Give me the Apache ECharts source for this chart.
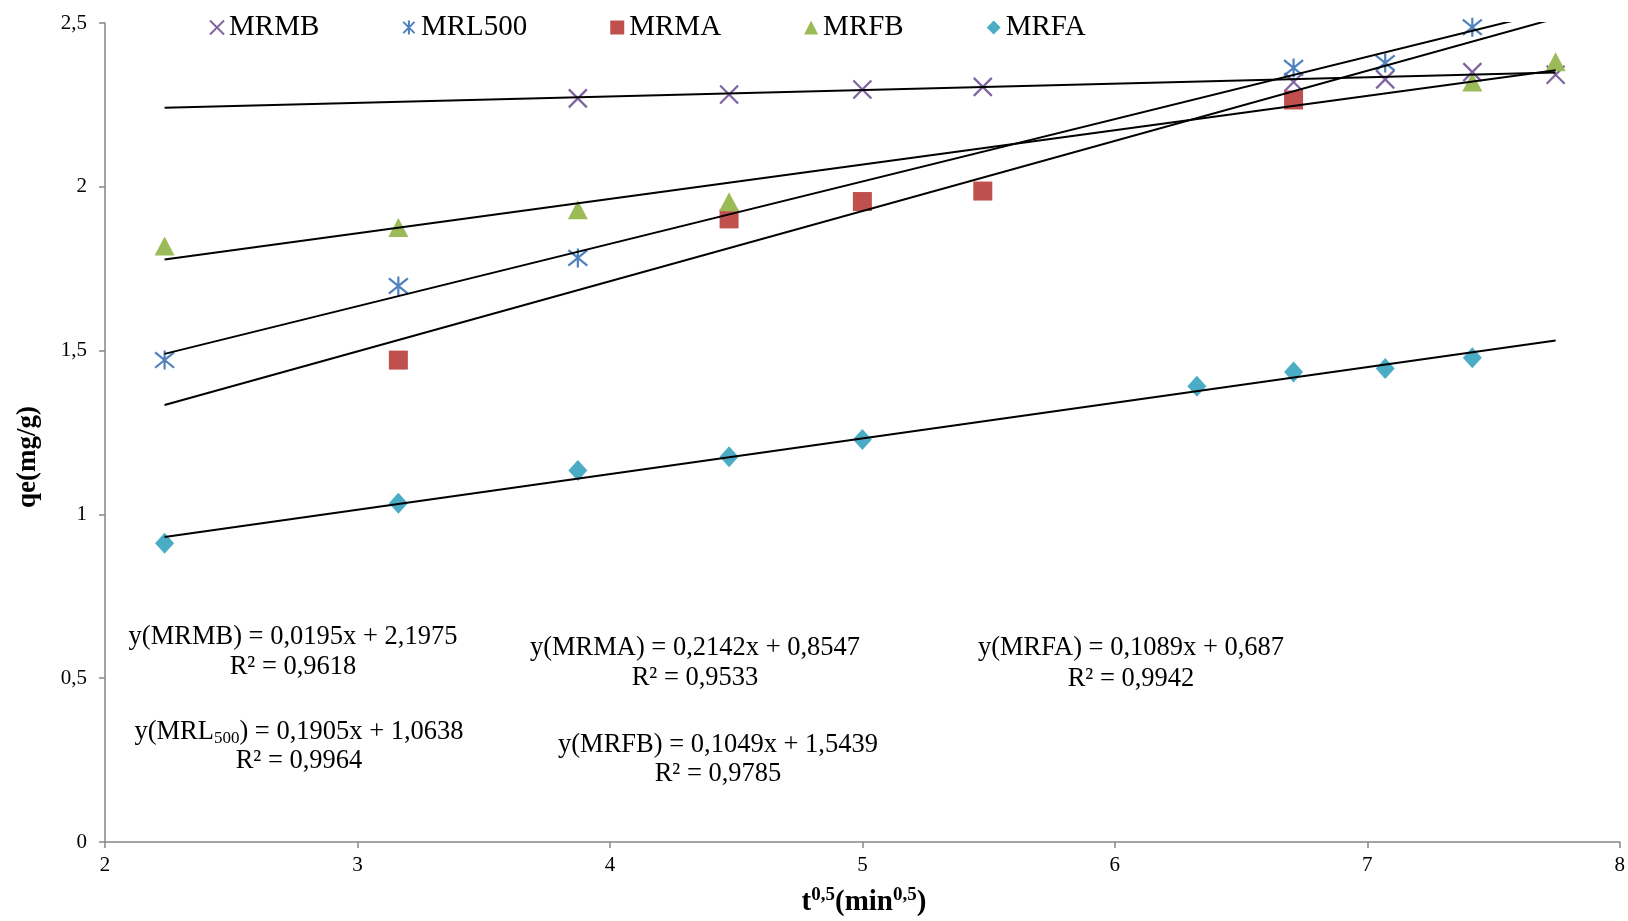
<!DOCTYPE html>
<html>
<head>
<meta charset="utf-8">
<script src="https://cdn.jsdelivr.net/npm/echarts@6/dist/echarts.min.js"></script>
<style>
html,body{margin:0;padding:0;background:#fff;}
#chart{width:1628px;height:921px;}
</style>
</head>
<body>
<div id="chart"></div>
<script>
// x = t^0.5 (min^0.5)
const xVals = [2.236, 3.162, 3.873, 4.472, 5.000, 5.477, 6.325, 6.708, 7.071, 7.416, 7.746];
const seriesNames = ['MRMB', 'MRL500', 'MRMA', 'MRFB', 'MRFA'];
const MRMB   = [null, null, 2.270, 2.282, 2.297, 2.305, null, 2.320, 2.328, 2.350, 2.342];
const MRL500 = [1.471, 1.697, 1.783, null, null, null, null, 2.363, 2.378, 2.487, null];
const MRMA   = [null, 1.471, null, 1.902, 1.955, 1.987, null, 2.265, null, null, null];
const MRFB   = [1.819, 1.876, 1.930, 1.954, null, null, null, null, null, 2.320, 2.382];
const MRFA   = [0.912, 1.034, 1.134, 1.176, 1.229, null, 1.391, 1.435, 1.445, 1.478, null];
// trend line end points [x, y] as drawn
const trendMRMB   = [[2.236, 2.241], [7.746, 2.349]];
const trendMRL500 = [[2.236, 1.490], [7.746, 2.539]];
const trendMRMA   = [[2.236, 1.334], [7.746, 2.514]];
const trendMRFB   = [[2.236, 1.778], [7.746, 2.356]];
const trendMRFA   = [[2.236, 0.931], [7.746, 1.531]];
const yTicks = ['0', '0,5', '1', '1,5', '2', '2,5'];
const xTicks = ['2', '3', '4', '5', '6', '7', '8'];

const serif = '"Liberation Serif", "Times New Roman", serif';
const colors = ['#7F63A1', '#4F81BD', '#C0504D', '#9BBB59', '#4BACC6'];
const symbols = [
  'path://M0,0L10,10M10,0L0,10',
  'path://M0,0L10,10M10,0L0,10M5,-1.2L5,11.2',
  'rect',
  'triangle',
  'diamond'
];
const sizes = [18, 19, 19, [20, 19], [19, 21]];
const values = [MRMB, MRL500, MRMA, MRFB, MRFA];
const trends = [trendMRMB, trendMRL500, trendMRMA, trendMRFB, trendMRFA];

function pairs(vals) {
  const out = [];
  vals.forEach((v, i) => { if (v !== null) out.push([xVals[i], v]); });
  return out;
}

const series = [];
values.forEach((vals, i) => {
  const isLine = i < 2;
  series.push({
    name: seriesNames[i],
    type: 'scatter',
    data: pairs(vals),
    symbol: symbols[i],
    symbolSize: sizes[i],
    z: 2 + i,
    itemStyle: isLine
      ? { color: colors[i], borderColor: colors[i], borderWidth: 2.2, opacity: 1 }
      : { color: colors[i], opacity: 1 },
    emphasis: { disabled: true }
  });
});
trends.forEach((t, i) => {
  series.push({
    name: 'trend' + i,
    type: 'line',
    data: t,
    symbol: 'none',
    z: 10,
    clip: true,
    lineStyle: { color: '#000', width: 2 },
    emphasis: { disabled: true },
    silent: true
  });
});

const eqStyle = { fontFamily: serif, fontSize: 26.5, fill: '#000' };
function eqText(x, y, text) {
  return { type: 'text', x: x, y: y, z: 20,
    style: Object.assign({ text: text, align: 'center', verticalAlign: 'middle',
      textAlign: 'center', textVerticalAlign: 'middle' }, eqStyle) };
}

const chart = echarts.init(document.getElementById('chart'), null, { renderer: 'canvas' });
chart.setOption({
  animation: false,
  backgroundColor: '#fff',
  grid: { left: 105, right: 7, top: 23, bottom: 79, containLabel: false },
  legend: {
    data: seriesNames,
    left: 204, top: 8,
    itemWidth: 14, itemHeight: 14, itemGap: 83,
    textStyle: { fontFamily: serif, fontSize: 29, color: '#000' },
    selectedMode: false
  },
  xAxis: {
    type: 'value', min: 2, max: 8, interval: 1,
    axisLine: { show: true, lineStyle: { color: '#868686', width: 1.5 } },
    axisTick: { show: true, length: 6, inside: false, lineStyle: { color: '#868686', width: 1.5 } },
    splitLine: { show: false },
    axisLabel: { fontFamily: serif, fontSize: 21, color: '#000', margin: 13,
      formatter: (v) => xTicks[Math.round(v - 2)] }
  },
  yAxis: {
    type: 'value', min: 0, max: 2.5, interval: 0.5,
    axisLine: { show: true, lineStyle: { color: '#868686', width: 1.5 } },
    axisTick: { show: true, length: 6, inside: false, lineStyle: { color: '#868686', width: 1.5 } },
    splitLine: { show: false },
    axisLabel: { fontFamily: serif, fontSize: 21, color: '#000', margin: 18,
      formatter: (v) => yTicks[Math.round(v / 0.5)] }
  },
  graphic: [
    eqText(293, 637, 'y(MRMB) = 0,0195x + 2,1975'),
    eqText(293, 667, 'R² = 0,9618'),
    { type: 'text', x: 299, y: 732, z: 20,
      style: { text: '{n|y(MRL}{s|500}{n|) = 0,1905x + 1,0638}', align: 'center', verticalAlign: 'middle',
        textAlign: 'center', textVerticalAlign: 'middle',
        rich: { n: { fontFamily: serif, fontSize: 26.5, fill: '#000', lineHeight: 30, verticalAlign: 'middle' },
                s: { fontFamily: serif, fontSize: 17, fill: '#000', lineHeight: 30, verticalAlign: 'bottom' } } } },
    eqText(299, 761, 'R² = 0,9964'),
    eqText(695, 648, 'y(MRMA) = 0,2142x + 0,8547'),
    eqText(695, 678, 'R² = 0,9533'),
    eqText(718, 745, 'y(MRFB) = 0,1049x + 1,5439'),
    eqText(718, 774, 'R² = 0,9785'),
    eqText(1131, 648, 'y(MRFA) = 0,1089x + 0,687'),
    eqText(1131, 679, 'R² = 0,9942'),
    { type: 'text', x: 864, y: 903, z: 20,
      style: { text: '{b|t}{s|0,5}{b|(min}{s|0,5}{b|)}', align: 'center', verticalAlign: 'middle',
        textAlign: 'center', textVerticalAlign: 'middle',
        rich: { b: { fontFamily: serif, fontSize: 29, fontWeight: 'bold', fill: '#000', lineHeight: 34, verticalAlign: 'middle' },
                s: { fontFamily: serif, fontSize: 19, fontWeight: 'bold', fill: '#000', lineHeight: 34, verticalAlign: 'top' } } } },
    { type: 'text', x: 28, y: 457, rotation: Math.PI / 2, z: 20,
      style: { text: 'qe(mg/g)', align: 'center', verticalAlign: 'middle',
        textAlign: 'center', textVerticalAlign: 'middle',
        fontFamily: serif, fontSize: 27, fontWeight: 'bold', fill: '#000' } }
  ],
  series: series
});
</script>
</body>
</html>
